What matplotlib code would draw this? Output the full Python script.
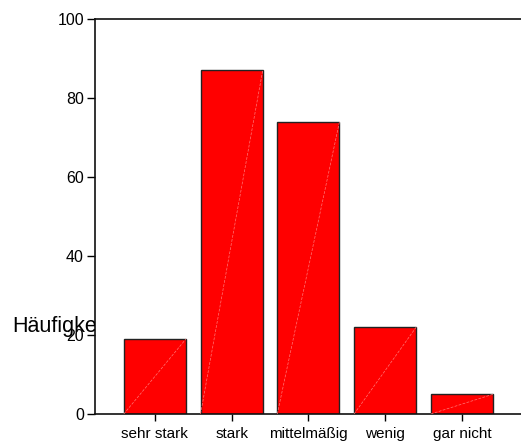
import numpy as np
import matplotlib.pyplot as plt
from matplotlib.transforms import Bbox, TransformedBbox

plt.rcParams['font.family'] = ['Liberation Sans', 'DejaVu Sans']

# data
categories = ['sehr stark', 'stark', 'mittelmäßig', 'wenig', 'gar nicht']
counts = [19, 87, 74, 22, 5]
y_ticks = [0, 20, 40, 60, 80, 100]

BAR_WIDTH = 0.81

fig = plt.figure(figsize=(5.21, 4.44), dpi=100)
ax = fig.add_axes([95 / 521, 30 / 444, 1 - 95 / 521, 395 / 444])

x = np.arange(len(categories))
ax.bar(x, counts, width=BAR_WIDTH, color='#ff0000', edgecolor='#222222', linewidth=1.0, zorder=2)

# the thin diagonal line SPSS leaves in each bar
for xi, v in zip(x, counts):
    ax.plot([xi - BAR_WIDTH / 2, xi + BAR_WIDTH / 2], [0, v], color='#ff7777',
            linewidth=0.5, linestyle=(0, (4, 2)), zorder=3)

ax.set_xlim(-0.78, 4.77)
ax.set_ylim(0, 100)
ax.set_yticks(y_ticks)
ax.set_xticks(x)
ax.set_xticklabels(categories, fontsize=11)
ax.tick_params(axis='y', labelsize=11.5, length=6, width=1, pad=2)
ax.tick_params(axis='x', length=5, width=1, pad=4)

for side in ['left', 'top', 'bottom']:
    ax.spines[side].set_linewidth(1.2)
    ax.spines[side].set_color('#111111')
ax.spines['right'].set_visible(False)

# y label gets cut off at the axis line in the original
label = fig.text(12 / 521, 1 - 326 / 444, 'Häufigkeit', fontsize=15.5, va='center', ha='left')
label.set_clip_box(TransformedBbox(Bbox([[0, 0], [95 / 521, 1]]), fig.transFigure))
label.set_clip_on(True)

fig.savefig('out.png', dpi=100)
